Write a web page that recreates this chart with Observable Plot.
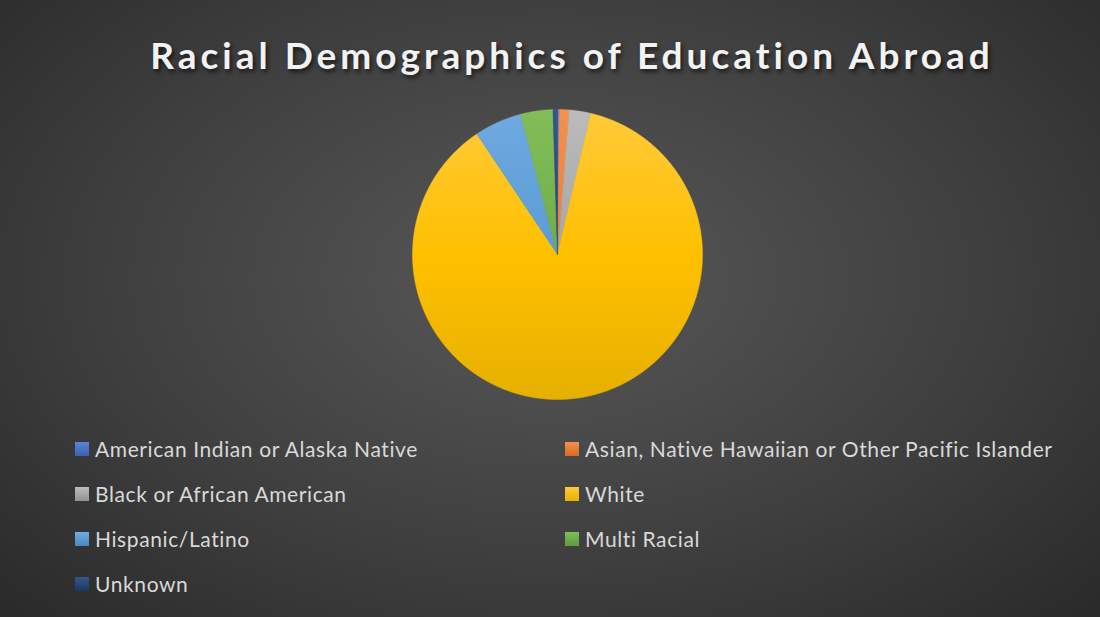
<!DOCTYPE html>
<html>
<head>
<meta charset="utf-8">
<script src="https://cdn.jsdelivr.net/npm/d3@7"></script>
<script src="https://cdn.jsdelivr.net/npm/@observablehq/plot@0.6"></script>
<style>
  html, body { margin: 0; padding: 0; background: #262626; }
  #chart {
    position: relative; width: 1100px; height: 617px; overflow: hidden;
    background: radial-gradient(ellipse 75% 85% at 50% 45%, #585858 0%, #3e3e3e 55%, #262626 100%);
    font-family: Lato, "Open Sans", sans-serif;
  }
  #title {
    position: absolute; left: 22px; width: 1100px; top: 30px; text-align: center;
    color: #f2f2f2; font-weight: bold; font-size: 37px; letter-spacing: 4px;
    text-shadow: 2px 3px 4px rgba(0,0,0,0.6); line-height: 50px;
  }
  #plot { position: absolute; left: 0; top: 89px; }
  .leg { position: absolute; color: #d9d9d9; font-size: 21px; letter-spacing: 0.6px; line-height: 24px; white-space: nowrap; }
  .sw { position: absolute; width: 14px; height: 14px; }
</style>
</head>
<body>
<div id="chart">
  <div id="title">Racial Demographics of Education Abroad</div>
  <div id="plot"></div>
</div>
<script>
const categories = [
  "American Indian or Alaska Native",
  "Asian, Native Hawaiian or Other Pacific Islander",
  "Black or African American",
  "White",
  "Hispanic/Latino",
  "Multi Racial",
  "Unknown"
];
const values = [0.2, 1.1, 2.4, 87.0, 5.3, 3.6, 0.5];
const colors = ["#4472C4", "#ED7D31", "#A5A5A5", "#FFC000", "#5B9BD5", "#70AD47", "#264478"];
const lightColors = ["#5a85d4", "#f4914f", "#bcbcbc", "#ffca3a", "#6faae0", "#82bd5a", "#35558c"];
const darkColors = ["#3a62ad", "#d46c25", "#929292", "#e6b000", "#4a88c2", "#5f9a3b", "#1d3760"];

const arcs = d3.pie().sort(null).value(d => d)(values);
const rows = [];
arcs.forEach((a, i) => {
  const n = Math.max(2, Math.ceil((a.endAngle - a.startAngle) / 0.005));
  rows.push({cat: categories[i], fill: `url(#grad${i})`, x: 0, y: 0});
  for (let k = 0; k <= n; k++) {
    const t = a.startAngle + (a.endAngle - a.startAngle) * k / n;
    rows.push({cat: categories[i], fill: `url(#grad${i})`, x: Math.sin(t), y: Math.cos(t)});
  }
  rows.push({cat: categories[i], fill: `url(#grad${i})`, x: 0, y: 0});
});

const plot = Plot.plot({
  width: 1100,
  height: 330,
  marginLeft: 412,
  marginRight: 398,
  marginTop: 20,
  marginBottom: 20,
  x: {domain: [-1, 1], axis: null},
  y: {domain: [-1, 1], axis: null},
  color: {type: "identity"},
  style: {background: "transparent", overflow: "visible"},
  marks: [
    Plot.line(rows, {x: "x", y: "y", z: "cat", fill: "fill", stroke: "fill", strokeWidth: 0.5, curve: "linear"})
  ]
});

// gradient definitions for the slices (lighter at top, darker at bottom)
const ns = "http://www.w3.org/2000/svg";
const defs = document.createElementNS(ns, "defs");
colors.forEach((c, i) => {
  const g = document.createElementNS(ns, "linearGradient");
  g.setAttribute("id", `grad${i}`);
  g.setAttribute("gradientUnits", "userSpaceOnUse");
  g.setAttribute("x1", 0); g.setAttribute("y1", 20);
  g.setAttribute("x2", 0); g.setAttribute("y2", 310);
  [[0, lightColors[i]], [0.5, c], [1, darkColors[i]]].forEach(([o, col]) => {
    const s = document.createElementNS(ns, "stop");
    s.setAttribute("offset", o); s.setAttribute("stop-color", col);
    g.appendChild(s);
  });
  defs.appendChild(g);
});
plot.insertBefore(defs, plot.firstChild);
document.getElementById("plot").appendChild(plot);

// legend (two columns, Excel order)
const chart = document.getElementById("chart");
categories.forEach((c, i) => {
  const col = i % 2, row = Math.floor(i / 2);
  const sx = col === 0 ? 75 : 565;
  const cy = 449 + row * 45;
  const sw = document.createElement("div");
  sw.className = "sw";
  sw.style.left = sx + "px";
  sw.style.top = (cy - 7) + "px";
  sw.style.background = `linear-gradient(${lightColors[i]}, ${darkColors[i]})`;
  chart.appendChild(sw);
  const t = document.createElement("div");
  t.className = "leg";
  t.textContent = c;
  t.style.left = (sx + 20) + "px";
  t.style.top = (cy - 12) + "px";
  chart.appendChild(t);
});
</script>
</body>
</html>
